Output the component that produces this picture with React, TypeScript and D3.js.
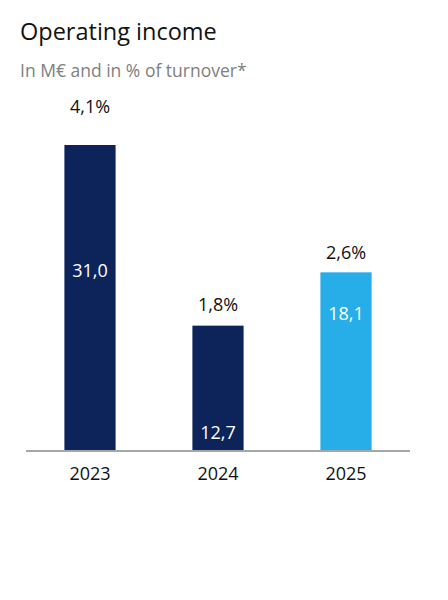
import { useEffect, useRef } from 'react';
import * as d3 from 'd3';

const years = ['2023', '2024', '2025'];
const incomeValues = [31.0, 12.7, 18.1];
const incomeLabels = ['31,0', '12,7', '18,1'];
const percentLabels = ['4,1%', '1,8%', '2,6%'];

// layout of the in-bar labels, as share of bar height, and of the % labels (px above top)
const insideLabelAt = [0.59, 0.145, 0.77];
const percentGap = [38, 21, 20];

const NAVY = '#0d245b';
const SKY = '#27aee8';
const FONT = "'Open Sans', sans-serif";

export default function App() {
  const svgRef = useRef<SVGSVGElement>(null);

  useEffect(() => {
    if (!svgRef.current) return;
    const svg = d3.select(svgRef.current);
    svg.selectAll('*').remove();

    const baseY = 451;

    const x = d3.scaleBand<string>()
      .domain(years)
      .range([26, 410])
      .paddingInner(0.6)
      .paddingOuter(0.3);

    const y = d3.scaleLinear()
      .domain([0, 31])
      .range([baseY, 145]);

    // title
    svg.append('text')
      .attr('x', 20)
      .attr('y', 40)
      .attr('font-family', FONT)
      .attr('font-size', 23.5)
      .attr('fill', '#111')
      .text('Operating income');

    svg.append('text')
      .attr('x', 20)
      .attr('y', 77)
      .attr('font-family', FONT)
      .attr('font-size', 17.5)
      .attr('fill', '#808080')
      .text('In M€ and in % of turnover*');

    const data = years.map((yr, i) => ({
      year: yr,
      value: incomeValues[i],
      label: incomeLabels[i],
      pct: percentLabels[i],
      i,
    }));

    const g = svg.append('g');

    g.selectAll('rect')
      .data(data)
      .join('rect')
      .attr('x', (d) => x(d.year)!)
      .attr('width', x.bandwidth())
      .attr('y', (d) => y(d.value))
      .attr('height', (d) => baseY - y(d.value))
      .attr('fill', (d) => (d.i === 2 ? SKY : NAVY));

    // value inside bar
    g.selectAll('text.val')
      .data(data)
      .join('text')
      .attr('class', 'val')
      .attr('x', (d) => x(d.year)! + x.bandwidth() / 2)
      .attr('y', (d) => baseY - (baseY - y(d.value)) * insideLabelAt[d.i])
      .attr('dy', '0.35em')
      .attr('text-anchor', 'middle')
      .attr('font-family', FONT)
      .attr('font-size', 18)
      .attr('fill', '#fff')
      .text((d) => d.label);

    // percent above bar
    g.selectAll('text.pct')
      .data(data)
      .join('text')
      .attr('class', 'pct')
      .attr('x', (d) => x(d.year)! + x.bandwidth() / 2)
      .attr('y', (d) => y(d.value) - percentGap[d.i])
      .attr('dy', '0.35em')
      .attr('text-anchor', 'middle')
      .attr('font-family', FONT)
      .attr('font-size', 18)
      .attr('fill', '#111')
      .text((d) => d.pct);

    // baseline
    svg.append('line')
      .attr('x1', 26)
      .attr('x2', 410)
      .attr('y1', baseY)
      .attr('y2', baseY)
      .attr('stroke', '#a6a6a6')
      .attr('stroke-width', 2);

    // year axis labels
    svg.append('g')
      .attr('transform', `translate(0,${baseY})`)
      .call(d3.axisBottom(x).tickSize(0).tickPadding(16))
      .call((ax) => ax.select('.domain').remove())
      .call((ax) =>
        ax.selectAll('text')
          .attr('font-family', FONT)
          .attr('font-size', 18)
          .attr('fill', '#111')
      );
  }, []);

  return (
    <div style={{ position: 'absolute', left: 0, top: 0, width: 448, height: 600, background: '#fff' }}>
      <svg ref={svgRef} width={448} height={600} style={{ display: 'block' }} />
    </div>
  );
}
